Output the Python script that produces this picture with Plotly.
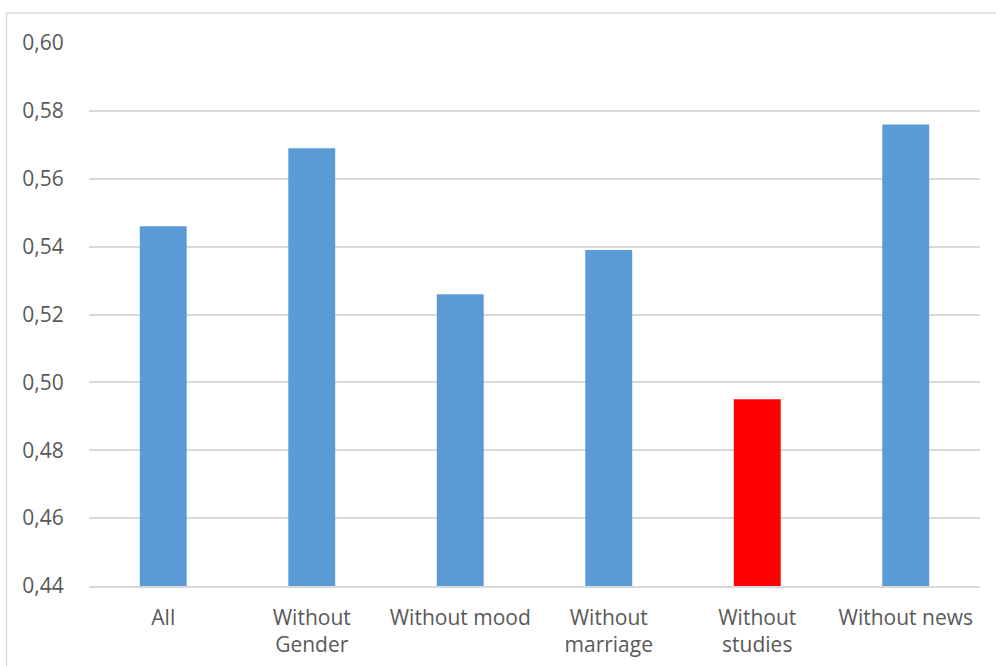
import plotly.graph_objects as go

# Model variants and their scores
categories = ["All", "Without<br>Gender", "Without mood", "Without<br>marriage", "Without<br>studies", "Without news"]
scores = [0.546, 0.569, 0.526, 0.539, 0.495, 0.576]
bar_colors = ["#5B9BD5", "#5B9BD5", "#5B9BD5", "#5B9BD5", "#FF0000", "#5B9BD5"]
y_ticks = [0.44, 0.46, 0.48, 0.50, 0.52, 0.54, 0.56, 0.58, 0.60]
y_tick_text = ["0,44", "0,46", "0,48", "0,50", "0,52", "0,54", "0,56", "0,58", "0,60"]

W, H = 996, 666
L, R, T, B = 89, 16, 43, 80

fig = go.Figure(go.Bar(
    x=categories,
    y=scores,
    marker=dict(color=bar_colors, line=dict(width=0)),
    hoverinfo="x+y",
))

plot_w = W - L - R
plot_h = H - T - B

fig.update_layout(
    width=W,
    height=H,
    margin=dict(l=L, r=R, t=T, b=B, pad=0, autoexpand=False),
    paper_bgcolor="white",
    plot_bgcolor="white",
    bargap=0.684,
    showlegend=False,
    font=dict(family="Open Sans, sans-serif", size=21, color="#595959"),
    xaxis=dict(
        automargin=False,
        showgrid=False,
        showline=True,
        linecolor="#D9D9D9",
        linewidth=1.5,
        ticks="outside",
        ticklen=12,
        tickcolor="rgba(0,0,0,0)",
        tickfont=dict(size=21, color="#595959"),
        fixedrange=True,
    ),
    yaxis=dict(
        automargin=False,
        range=[0.44, 0.60],
        tickvals=y_ticks,
        ticktext=y_tick_text,
        showgrid=True,
        gridcolor="#D9D9D9",
        gridwidth=1.5,
        zeroline=False,
        showline=False,
        ticks="outside",
        ticklen=20,
        tickcolor="rgba(0,0,0,0)",
        tickfont=dict(size=21, color="#595959"),
        fixedrange=True,
    ),
    shapes=[
        # Chart frame
        dict(
            type="rect",
            xref="paper", yref="paper",
            x0=(6.5 - L) / plot_w, x1=(W + 20 - L) / plot_w,
            y0=-(B + 20) / plot_h, y1=(H - B - 13) / plot_h,
            line=dict(color="#D9D9D9", width=1.5),
            fillcolor="rgba(0,0,0,0)",
            layer="below",
        )
    ],
)

fig.write_html("out.html")
